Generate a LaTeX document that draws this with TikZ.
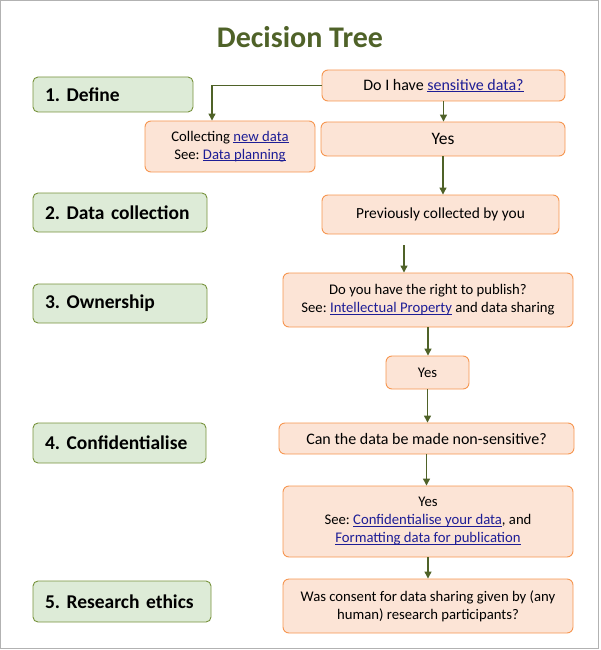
\documentclass[tikz,border=0pt]{standalone}
\usepackage{fontspec}
\setmainfont{Carlito}
\usepackage{xcolor}
\usepackage{tikz}
\usetikzlibrary{arrows.meta, positioning}

\definecolor{titlegreen}{RGB}{79,98,40}
\definecolor{stagefill}{RGB}{221,235,215}
\definecolor{stageline}{RGB}{119,147,60}
\definecolor{qfill}{RGB}{252,228,214}
\definecolor{qline}{RGB}{246,150,80}
\definecolor{linkblue}{RGB}{30,30,150}

\newcommand{\lnk}[1]{\textcolor{linkblue}{\setbox0\hbox{#1}\rlap{\rule[-1.6pt]{\wd0}{0.7pt}}\box0}}
\newcommand{\fs}[1]{\fontsize{#1}{18}\selectfont}
\frenchspacing

\begin{document}
\begin{tikzpicture}[
    x=1pt, y=-1pt,
    stage/.style={
        draw=stageline, fill=stagefill, rounded corners=5pt, line width=0.9pt,
        minimum height=39pt, inner xsep=12pt, inner ysep=0pt,
        font=\bfseries\fontsize{19.5}{22}\selectfont, align=left
    },
    qbox/.style={
        draw=qline, fill=qfill, rounded corners=6pt, line width=0.9pt,
        inner sep=0pt, font=\fs{14.7}, align=center
    },
    arr/.style={->, >={Triangle[length=7pt,width=7pt]}, line width=1.2pt, color=titlegreen}
]
    \useasboundingbox (0,0) rectangle (600,650);
    \draw[gray!60, line width=1pt] (0.5,0.5) rectangle (598.5,648.5);

    % Title
    \node[font=\bfseries\fontsize{30}{34}\selectfont, text=titlegreen]
        (title) at (300,37) {Decision Tree};

    % Stages on the left
    \node[stage, text width=136pt, minimum height=35pt] (s1) at (113,94.5) {1. Define};
    \node[stage, text width=150pt] (s2) at (120,212.5) {2. Data collection};
    \node[stage, text width=150pt] (s3) at (120,303.5) {3. Ownership};
    \node[stage, text width=149pt, minimum height=40pt] (s4) at (119.5,443) {4. Confidentialise};
    \node[stage, text width=154pt, minimum height=41pt] (s5) at (122,601.5) {5. Research ethics};

    % Questions and answers
    \node[qbox, minimum width=243pt, minimum height=31pt, font=\fs{16}] (sens) at (443.5,85.5)
        {Do I have \lnk{sensitive data?}};
    \node[qbox, minimum width=170pt, minimum height=51pt] (coll) at (230,146.5)
        {Collecting \lnk{new data}\\See: \lnk{Data planning}};
    \node[qbox, minimum width=244pt, minimum height=34pt, font=\fs{17.5}] (yes1) at (443,139) {Yes};
    \node[qbox, minimum width=237pt, minimum height=39pt, font=\fs{15.4}] (prev) at (440.5,214.5) {Previously collected by you\vphantom{g}};
    \node[qbox, minimum width=290pt, minimum height=54pt] (right) at (428,300)
        {Do you have the right to publish?\\See: \lnk{Intellectual Property} and data sharing};
    \node[qbox, minimum width=83pt, minimum height=33pt] (yes2) at (427.5,372.5) {Yes};
    \node[qbox, minimum width=295pt, minimum height=31pt, font=\fs{16}] (nons) at (426.5,438.5)
        {Can the data be made non-sensitive?};
    \node[qbox, minimum width=290pt, minimum height=71pt] (conf) at (428,521.5)
        {Yes\\See: \lnk{Confidentialise your data}, and\\\lnk{Formatting data for publication}};
    \node[qbox, minimum width=290pt, minimum height=54pt] (cons) at (428,606)
        {Was consent for data sharing given by (any\\human) research participants?};

    % Loose arrow start
    \coordinate (gap) at (404,245);

    % Connectors
    \draw[arr] (sens.west) -| ([xshift=-18pt]coll.north);
    \draw[arr] (sens.south) -- (sens.south |- yes1.north);
    \draw[arr] (yes1.south) -- (yes1.south |- prev.north);
    \draw[arr] (gap) -- (gap |- right.north);
    \draw[arr] (right.south) -- (right.south |- yes2.north);
    \draw[arr] (yes2.south) -- (yes2.south |- nons.north);
    \draw[arr] (nons.south) -- (nons.south |- conf.north);
    \draw[arr] (conf.south) -- (conf.south |- cons.north);
\end{tikzpicture}
\end{document}
